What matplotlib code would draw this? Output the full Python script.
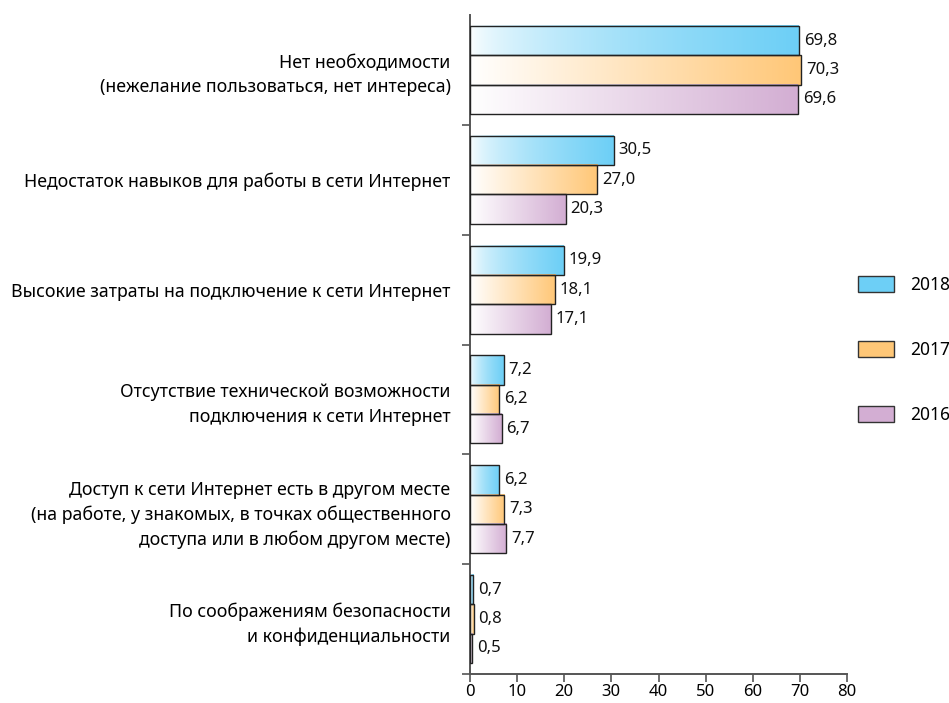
import numpy as np
import matplotlib.pyplot as plt
from matplotlib.patches import Patch
from matplotlib.colors import LinearSegmentedColormap

categories = [
    "Нет необходимости\n(нежелание пользоваться, нет интереса)",
    "Недостаток навыков для работы в сети Интернет",
    "Высокие затраты на подключение к сети Интернет",
    "Отсутствие технической возможности\nподключения к сети Интернет",
    "Доступ к сети Интернет есть в другом месте\n(на работе, у знакомых, в точках общественного\nдоступа или в любом другом месте)",
    "По соображениям безопасности\nи конфиденциальности",
]
years = ["2018", "2017", "2016"]
v2018 = [69.8, 30.5, 19.9, 7.2, 6.2, 0.7]
v2017 = [70.3, 27.0, 18.1, 6.2, 7.3, 0.8]
v2016 = [69.6, 20.3, 17.1, 6.7, 7.7, 0.5]
colors = ["#6dcff6", "#ffc777", "#d3aed3"]

plt.rcParams['font.family'] = ['Noto Sans', 'DejaVu Sans']

fig = plt.figure(figsize=(9.49, 7.03), dpi=100)
ax = fig.add_axes([470 / 949, 1 - 674 / 703, (847 - 470) / 949, (674 - 15) / 703])

bar_h = 0.8 / 3
grad = np.linspace(0, 1, 256).reshape(1, -1)
for k, (vals, col) in enumerate(zip([v2018, v2017, v2016], colors)):
    cmap = LinearSegmentedColormap.from_list("g%d" % k, ["#ffffff", col])
    for i, v in enumerate(vals):
        y0 = i - 0.4 + k * bar_h
        g = grad ** 0.6 if k == 0 else grad
        ax.imshow(g, cmap=cmap, extent=(0, v, y0 + bar_h, y0), aspect='auto',
                  vmin=0, vmax=1, zorder=2, interpolation='bilinear')
        ax.barh(y0 + bar_h / 2, v, height=bar_h, fill=False, edgecolor='#222222',
                linewidth=1.0, zorder=3)
        ax.text(v + 1.0, y0 + bar_h / 2, ("%.1f" % v).replace(".", ","),
                va='center', ha='left', fontsize=12, color='#111111')

ax.set_xlim(0, 80)
ax.set_ylim(5.5, -0.5)
ax.set_xticks(np.arange(0, 81, 10))
ax.set_yticks(range(len(categories)))
ax.set_yticklabels(categories, fontsize=12.8, linespacing=1.45, ha='right')
ax.set_yticks(np.arange(0.5, 6.0, 1.0), minor=True)
ax.tick_params(axis='y', which='major', length=0, pad=14)
ax.tick_params(axis='y', which='minor', length=6, width=1.2, color='#555555', direction='out')
ax.tick_params(axis='x', length=6, width=1.2, color='#555555', labelsize=12, pad=1)

for s in ['top', 'right']:
    ax.spines[s].set_visible(False)
for s in ['left', 'bottom']:
    ax.spines[s].set_color('#555555')
    ax.spines[s].set_linewidth(1.4)

handles = [Patch(facecolor=c, edgecolor='#333333', linewidth=1.0) for c in colors]
fig.legend(handles, years, loc='center left', bbox_to_anchor=(858 / 949, 1 - 350 / 703),
           frameon=False, fontsize=12.5, labelspacing=2.7, handlelength=2.1,
           handleheight=1.0, handletextpad=0.9, borderpad=0, borderaxespad=0)

fig.savefig("out.png", dpi=100)
